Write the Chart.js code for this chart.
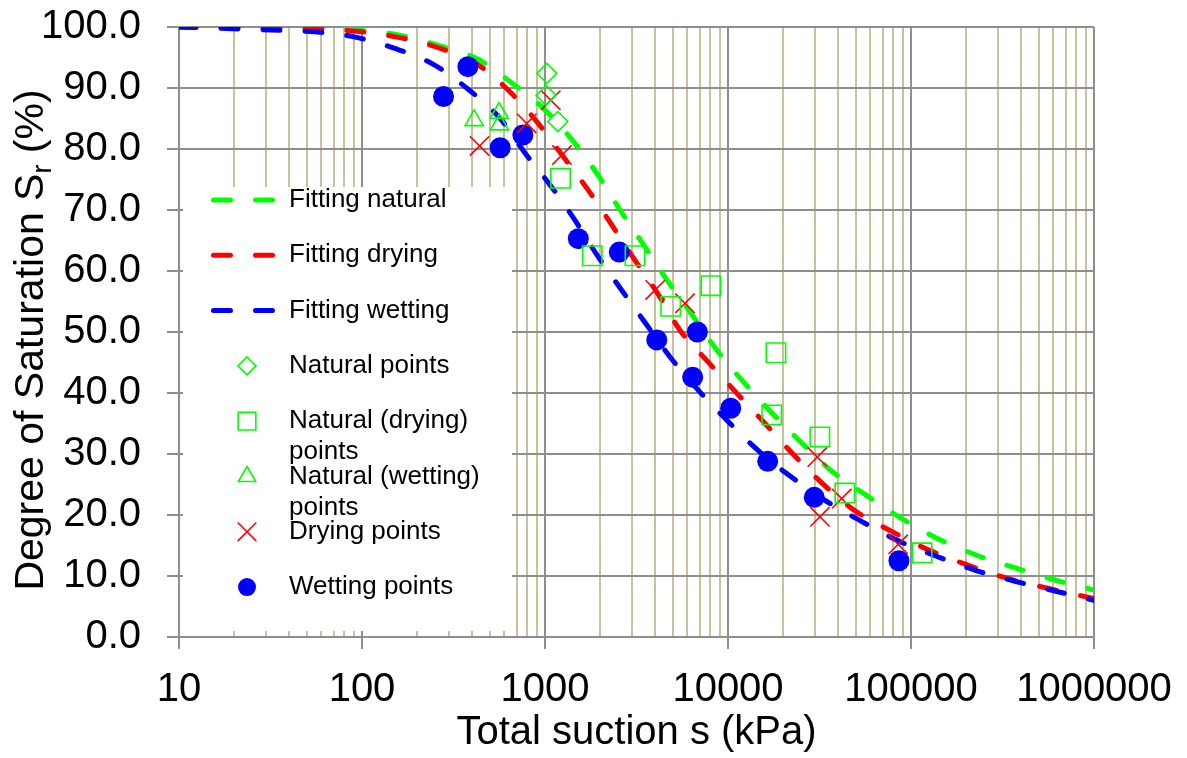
<!DOCTYPE html>
<html>
<head>
<meta charset="utf-8">
<script src="https://cdn.jsdelivr.net/npm/chart.js@4.4.0/dist/chart.umd.min.js"></script>
<style>
  html, body { margin: 0; padding: 0; background: #fff; }
</style>
</head>
<body>
<canvas id="chart" width="1187" height="758"></canvas>
<script>
// fitted curves
const fitNaturalX = [10, 31.5, 55.5, 93, 158, 261, 431, 661, 1000, 1405, 1950, 2570, 3474, 4643, 6440, 8710, 12080, 17170, 24720, 36500, 55900, 88000, 138400, 229000, 374000, 619000, 1000000];
const fitNaturalY = [100, 99.9, 99.8, 99.5, 98.7, 97.0, 94.7, 90.8, 86.4, 81.5, 75.7, 70.0, 64.2, 58.5, 52.6, 47.0, 41.9, 36.9, 32.1, 27.3, 23.4, 19.5, 16.2, 13.4, 11.3, 9.3, 7.7];

const fitDryingX = [10, 31.5, 55.5, 93, 158, 261, 431, 637, 906, 1240, 1718, 2323, 3064, 4090, 5464, 7780, 11060, 15930, 22620, 32970, 49900, 78500, 126600, 204000, 337000, 558000, 1000000];
const fitDryingY = [100, 99.8, 99.7, 99.3, 98.3, 96.6, 93.8, 89.5, 84.4, 79.0, 73.3, 67.5, 62.0, 56.5, 50.3, 45.1, 40.1, 35.0, 30.0, 25.1, 20.6, 17.3, 14.2, 11.8, 9.6, 8.0, 6.3];

const fitWettingX = [10, 31.5, 55.5, 93, 154, 248, 380, 569, 779, 1066, 1460, 1926, 2604, 3568, 4823, 6950, 9880, 14600, 21560, 33900, 53300, 84900, 138700, 226500, 374000, 619000, 1000000];
const fitWettingY = [100, 99.5, 99.2, 98.3, 96.4, 93.8, 89.8, 85.0, 79.3, 74.1, 68.3, 62.6, 57.0, 51.3, 45.9, 40.3, 35.5, 30.6, 26.5, 22.4, 19.0, 15.8, 13.2, 10.9, 9.1, 7.5, 6.0];

// measured points
const naturalX = [1023, 1014, 1175];
const naturalY = [92.4, 88.8, 84.5];

const natDryingX = [1216, 1812, 3104, 4863, 8070, 18280, 17330, 31760, 43500, 115000];
const natDryingY = [75.2, 62.5, 62.5, 54.2, 57.6, 46.6, 36.4, 32.8, 23.6, 13.8];

const natWettingX = [410, 561, 564];
const natWettingY = [84.7, 85.9, 84.0];

const dryingX = [439, 794, 1076, 1237, 4000, 5820, 30760, 31800, 41800, 85100];
const dryingY = [80.5, 84.2, 88.0, 79.0, 56.9, 54.7, 29.5, 19.7, 22.7, 15.2];

const wettingX = [279, 379, 569, 757, 1521, 2546, 4080, 6800, 6410, 10350, 16480, 29600, 85900];
const wettingY = [88.6, 93.5, 80.2, 82.3, 65.3, 63.1, 48.7, 50.0, 42.6, 37.5, 28.8, 22.9, 12.5];

const xMajorTicks = [10, 100, 1000, 10000, 100000, 1000000];

const FONT = "'Liberation Sans', Arial, sans-serif";
const GRAY = '#8e8e8e';
const TAN = '#c9c09c';
const GREEN = '#00ff00';
const RED = '#ff0000';
const BLUE = '#0000ff';

function pts(xs, ys) {
  return xs.map((x, i) => ({ x: x, y: ys[i] }));
}

// all 1..9 x 10^n lines between 10 and 1e6
const xGridTicks = [];
xMajorTicks.forEach(d => {
  for (let m = 1; m <= 9; m++) {
    if (d * m <= 1000000) xGridTicks.push(d * m);
  }
});
const majorSet = new Set(xMajorTicks);

function fitLine(label, xs, ys, color, order) {
  return {
    label: label,
    data: pts(xs, ys),
    showLine: true,
    borderColor: color,
    backgroundColor: color,
    borderWidth: 5,
    borderDash: [17, 25],
    borderCapStyle: 'round',
    pointRadius: 0,
    cubicInterpolationMode: 'monotone',
    order: order
  };
}

function markers(label, xs, ys, style, radius, color, filled) {
  return {
    label: label,
    data: pts(xs, ys),
    showLine: false,
    pointStyle: style,
    pointRadius: radius,
    pointBorderColor: color,
    pointBackgroundColor: filled ? color : 'rgba(0,0,0,0)',
    pointBorderWidth: filled ? 0 : 1.6,
    borderColor: color,
    backgroundColor: filled ? color : 'rgba(0,0,0,0)',
    order: 0
  };
}

const legendBox = {
  id: 'legendBox',
  beforeDatasetsDraw(chart) {
    const ctx = chart.ctx;
    ctx.save();
    ctx.fillStyle = '#fff';
    ctx.fillRect(183, 187, 329, 444);
    ctx.font = '26px ' + FONT;
    ctx.textBaseline = 'middle';
    ctx.textAlign = 'left';
    const sizes = [0, 0, 0, 9, 12.5, 10, 12.5, 9];
    chart.data.datasets.forEach((ds, i) => {
      const y = 200 + i * 55.3;
      if (ds.showLine) {
        ctx.strokeStyle = ds.borderColor;
        ctx.lineWidth = 5;
        ctx.lineCap = 'round';
        ctx.setLineDash([17, 25]);
        ctx.beginPath();
        ctx.moveTo(213.5, y);
        ctx.lineTo(273.5, y);
        ctx.stroke();
        ctx.setLineDash([]);
      } else {
        ctx.strokeStyle = ds.pointBorderColor;
        ctx.fillStyle = ds.pointBackgroundColor;
        ctx.lineWidth = ds.pointBorderWidth;
        Chart.helpers.drawPoint(ctx, {
          pointStyle: ds.pointStyle,
          radius: sizes[i],
          rotation: 0,
          borderWidth: ds.pointBorderWidth
        }, 247, y);
      }
      // wrap long labels onto a second line
      ctx.fillStyle = '#000';
      const words = ds.label.split(' ');
      const lines = [];
      let cur = '';
      words.forEach(w => {
        const t = cur ? cur + ' ' + w : w;
        if (ctx.measureText(t).width > 215 && cur) {
          lines.push(cur);
          cur = w;
        } else {
          cur = t;
        }
      });
      lines.push(cur);
      lines.forEach((l, k) => ctx.fillText(l, 289, y + k * 31));
    });
    ctx.restore();
  }
};

const yTitle = {
  id: 'yTitle',
  afterDraw(chart) {
    const ctx = chart.ctx;
    const main = 'Degree of Saturation S';
    const sub = 'r';
    const tail = ' (%)';
    ctx.save();
    ctx.fillStyle = '#000';
    ctx.textBaseline = 'alphabetic';
    ctx.textAlign = 'left';
    ctx.font = '41px ' + FONT;
    const w1 = ctx.measureText(main).width;
    const w3 = ctx.measureText(tail).width;
    ctx.font = '27px ' + FONT;
    const w2 = ctx.measureText(sub).width;
    const total = w1 + w2 + w3;
    ctx.translate(43, 340);
    ctx.rotate(-Math.PI / 2);
    let x = -total / 2;
    ctx.font = '41px ' + FONT;
    ctx.fillText(main, x, 0);
    x += w1;
    ctx.font = '27px ' + FONT;
    ctx.fillText(sub, x, 8);
    x += w2;
    ctx.font = '41px ' + FONT;
    ctx.fillText(tail, x, 0);
    ctx.restore();
  }
};

new Chart(document.getElementById('chart'), {
  type: 'scatter',
  data: {
    datasets: [
      fitLine('Fitting natural', fitNaturalX, fitNaturalY, GREEN, 3),
      fitLine('Fitting drying', fitDryingX, fitDryingY, RED, 2),
      fitLine('Fitting wetting', fitWettingX, fitWettingY, BLUE, 1),
      markers('Natural points', naturalX, naturalY, 'rectRot', 10, GREEN, false),
      markers('Natural (drying) points', natDryingX, natDryingY, 'rect', 13.7, GREEN, false),
      markers('Natural (wetting) points', natWettingX, natWettingY, 'triangle', 10.5, GREEN, false),
      markers('Drying points', dryingX, dryingY, 'crossRot', 13.7, RED, false),
      markers('Wetting points', wettingX, wettingY, 'circle', 10.5, BLUE, true)
    ]
  },
  options: {
    responsive: false,
    animation: false,
    events: [],
    layout: { padding: { top: 27, right: 93, left: 0, bottom: 0 } },
    plugins: {
      legend: { display: false },
      tooltip: { enabled: false }
    },
    scales: {
      x: {
        type: 'logarithmic',
        min: 10,
        max: 1000000,
        afterBuildTicks: s => { s.ticks = xGridTicks.map(v => ({ value: v })); },
        afterFit: s => {
          s.height = 121;
          s.paddingLeft = 0;
          s.paddingRight = 0;
        },
        grid: {
          color: c => (c.tick && majorSet.has(c.tick.value)) ? GRAY : TAN,
          lineWidth: 2,
          tickLength: 12,
          tickColor: c => (c.tick && majorSet.has(c.tick.value)) ? GRAY : 'rgba(0,0,0,0)'
        },
        border: { color: GRAY, width: 2 },
        ticks: {
          autoSkip: false,
          maxRotation: 0,
          minRotation: 0,
          padding: 17,
          color: '#000',
          font: { family: FONT, size: 40 },
          callback: v => majorSet.has(v) ? String(v) : ''
        },
        title: {
          display: true,
          text: 'Total suction s (kPa)',
          color: '#000',
          font: { family: FONT, size: 40 },
          padding: { top: 0, bottom: 1 }
        }
      },
      y: {
        min: 0,
        max: 100,
        afterFit: s => {
          s.width = 179;
          s.paddingTop = 0;
          s.paddingBottom = 0;
        },
        grid: {
          color: GRAY,
          lineWidth: 2,
          tickLength: 12,
          tickColor: GRAY
        },
        border: { color: GRAY, width: 2 },
        ticks: {
          stepSize: 10,
          padding: 26,
          color: '#000',
          font: { family: FONT, size: 40 },
          callback: v => v.toFixed(1)
        }
      }
    }
  },
  plugins: [legendBox, yTitle]
});
</script>
</body>
</html>
